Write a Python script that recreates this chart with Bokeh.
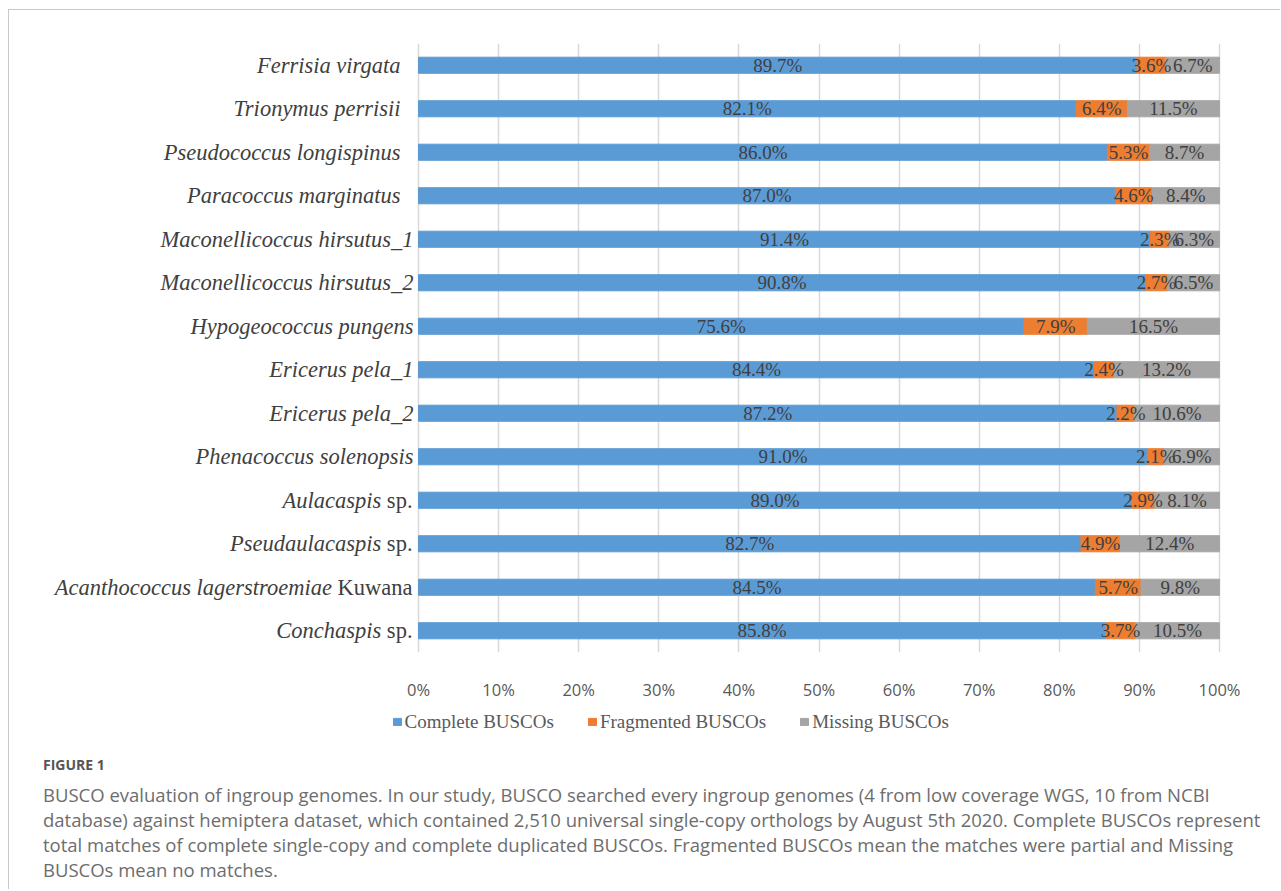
from bokeh.plotting import figure
from bokeh.layouts import column
from bokeh.models import (FactorRange, Range1d, ColumnDataSource, Label,
                          Legend, LegendItem, PrintfTickFormatter, FixedTicker)
from bokeh.core.properties import value
from bokeh.embed import file_html
from bokeh.resources import INLINE

# ---------------- data ----------------
species = ["Ferrisia virgata", "Trionymus perrisii", "Pseudococcus longispinus",
           "Paracoccus marginatus", "Maconellicoccus hirsutus_1", "Maconellicoccus hirsutus_2",
           "Hypogeococcus pungens", "Ericerus pela_1", "Ericerus pela_2",
           "Phenacoccus solenopsis", "Aulacaspis", "Pseudaulacaspis",
           "Acanthococcus lagerstroemiae", "Conchaspis"]
suffixes = ["", "", "", "", "", "", "", "", "", "", "sp.", "sp.", "Kuwana", "sp."]
complete = [89.7, 82.1, 86.0, 87.0, 91.4, 90.8, 75.6, 84.4, 87.2, 91.0, 89.0, 82.7, 84.5, 85.8]
fragmented = [3.6, 6.4, 5.3, 4.6, 2.3, 2.7, 7.9, 2.4, 2.2, 2.1, 2.9, 4.9, 5.7, 3.7]
missing = [6.7, 11.5, 8.7, 8.4, 6.3, 6.5, 16.5, 13.2, 10.6, 6.9, 8.1, 12.4, 9.8, 10.5]
series_names = ["Complete BUSCOs", "Fragmented BUSCOs", "Missing BUSCOs"]
x_ticks = [0, 10, 20, 30, 40, 50, 60, 70, 80, 90, 100]

caption_title = "FIGURE 1"
caption_lines = [
    "BUSCO evaluation of ingroup genomes. In our study, BUSCO searched every ingroup genomes (4 from low coverage WGS, 10 from NCBI",
    "database) against hemiptera dataset, which contained 2,510 universal single-copy orthologs by August 5th 2020. Complete BUSCOs represent",
    "total matches of complete single-copy and complete duplicated BUSCOs. Fragmented BUSCOs mean the matches were partial and Missing",
    "BUSCOs mean no matches.",
]

# ---------------- styles / layout ----------------
COLORS = ["#5B9BD5", "#ED7D31", "#A5A5A5"]
SERIF = "Liberation Serif"
CAT_SIZE = 22.5
PLOT_LEFT, PLOT_W, PLOT_TOP, PLOT_H = 409, 801, 33, 614
W, H_TOP, H_BOT = 1271, 693, 186
TRAILING_GAP = {"Ferrisia virgata", "Trionymus perrisii", "Pseudococcus longispinus",
                "Paracoccus marginatus"}
ROMAN_W = {"s": .389, "p": .5, ".": .25, "K": .722, "u": .5, "w": .722, "a": .444, "n": .5, " ": .25}

keys = [(s + " " + t).strip() for s, t in zip(species, suffixes)]
factors = list(reversed(keys))

src = ColumnDataSource(dict(cat=keys, complete=complete, fragmented=fragmented, missing=missing))

# frame spans the full width; 0..100 % is mapped to PLOT_LEFT..PLOT_LEFT+PLOT_W px
p = figure(width=W, height=H_TOP, y_range=FactorRange(factors=factors),
           x_range=Range1d(-100 * PLOT_LEFT / PLOT_W, 100 * (W - PLOT_LEFT) / PLOT_W),
           output_backend="svg", toolbar_location=None, y_axis_type=None,
           min_border_left=0, min_border_right=0,
           min_border_top=PLOT_TOP, min_border_bottom=H_TOP - PLOT_TOP - PLOT_H)
p.outline_line_color = None

renderers = p.hbar_stack(["complete", "fragmented", "missing"], y="cat", height=0.37,
                         color=COLORS, source=src)

p.ygrid.grid_line_color = None
p.xgrid.ticker = FixedTicker(ticks=x_ticks)
p.xgrid.grid_line_color = "#d9d9d9"
p.xgrid.grid_line_width = 1.5
p.xaxis.ticker = FixedTicker(ticks=x_ticks)
p.xaxis.formatter = PrintfTickFormatter(format="%d%%")
p.xaxis.axis_line_color = None
p.xaxis.major_tick_line_color = None
p.xaxis.minor_tick_line_color = None
p.xaxis.major_label_standoff = 19
p.xaxis.major_label_text_font = "Open Sans"
p.xaxis.major_label_text_font_size = "16.5px"
p.xaxis.major_label_text_color = "#595959"

# in-bar value labels
xs, ys, txt = [], [], []
for k, c, f, m in zip(keys, complete, fragmented, missing):
    for center, v in ((c / 2, c), (c + f / 2, f), (c + f + m / 2, m)):
        xs.append(center); ys.append(k); txt.append(f"{v:.1f}%")
p.text(x="x", y="y", text="t", source=ColumnDataSource(dict(x=xs, y=ys, t=txt)),
       text_font=value(SERIF), text_font_size="19px", text_color="#404040",
       text_align="center", text_baseline="middle")

# category labels (italic names + roman suffixes), placed left of 0%
it_off, rom_y, rom_t = [], [], []
for s, t, k in zip(species, suffixes, keys):
    if t:
        w = sum(ROMAN_W.get(ch, .5) for ch in " " + t) * CAT_SIZE
        it_off.append(-6 - w)
        rom_y.append(k); rom_t.append(t)
    else:
        it_off.append(-18 if s in TRAILING_GAP else -5)
p.text(x="x", y="y", text="t", x_offset="o",
       source=ColumnDataSource(dict(x=[0] * len(keys), y=keys, t=species, o=it_off)),
       text_font=value(SERIF), text_font_style="italic", text_font_size=f"{CAT_SIZE}px",
       text_color="#404040", text_align="right", text_baseline="middle")
p.text(x="x", y="y", text="t", x_offset=-6,
       source=ColumnDataSource(dict(x=[0] * len(rom_y), y=rom_y, t=rom_t)),
       text_font=value(SERIF), text_font_size=f"{CAT_SIZE}px",
       text_color="#404040", text_align="right", text_baseline="middle")

# ---------------- bottom: legend + caption ----------------
q = figure(width=W, height=H_BOT, x_range=Range1d(0, W), y_range=Range1d(0, H_BOT),
           output_backend="svg", toolbar_location=None, x_axis_type=None, y_axis_type=None,
           min_border=0)
q.outline_line_color = None
q.grid.visible = False
proxies = [q.hbar(y=[-100], right=[1], height=1, color=c) for c in COLORS]
legend = Legend(items=[LegendItem(label=n, renderers=[r]) for n, r in zip(series_names, proxies)],
                location=(382.5, 156.5), orientation="horizontal", glyph_width=10, glyph_height=9,
                label_standoff=3, spacing=33, padding=0, margin=0, border_line_color=None,
                background_fill_alpha=0, label_text_font=SERIF, label_text_font_size="19px",
                label_text_color="#595959")
q.add_layout(legend)

q.add_layout(Label(x=33.5, y=125, x_units="screen", y_units="screen", text=caption_title,
                   text_font="Open Sans", text_font_style="bold", text_font_size="14px",
                   text_color="#555555", text_baseline="middle"))
for i, line in enumerate(caption_lines):
    q.add_layout(Label(x=33.5, y=95 - 25 * i, x_units="screen", y_units="screen", text=line,
                       text_font="Open Sans", text_font_size="18.5px", text_color="#6d6d6d",
                       text_baseline="middle"))

layout = column(p, q, margin=(9, 0, 0, 8),
                styles={"border-left": "1.5px solid #c8c8c8",
                        "border-top": "1.5px solid #c8c8c8"})

open("out.html", "w").write(file_html(layout, INLINE))
